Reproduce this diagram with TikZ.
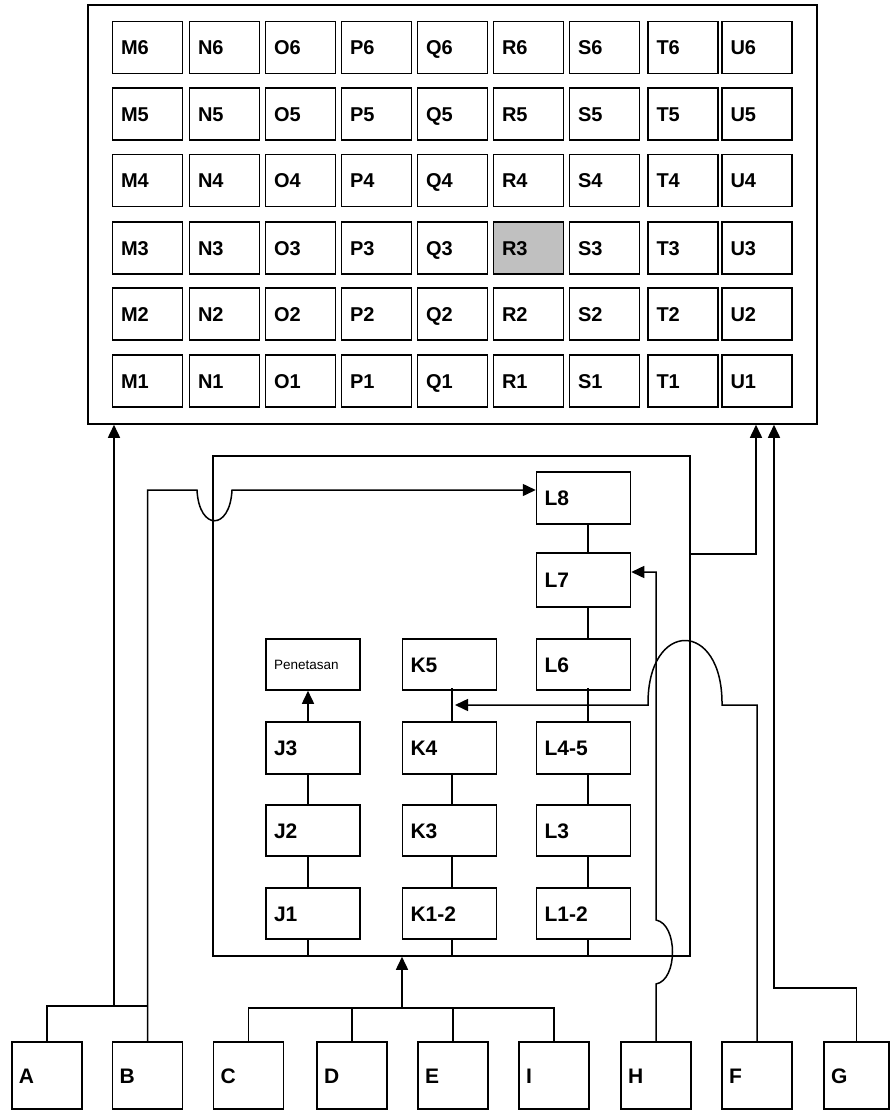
\documentclass[tikz,border=0pt]{standalone}
\usepackage{fontspec}
\setmainfont{Liberation Sans}
\usetikzlibrary{arrows.meta}
\begin{document}
\begin{tikzpicture}[x=1pt,y=-1pt,
  ln/.style={line width=1.5pt, line join=miter},
  arr/.style={ln,-{Triangle[length=13pt,width=12pt]}},
  cell/.style={draw, line width=1.5pt, align=left, text width=53pt, inner xsep=8.5pt, minimum height=52pt, text height=14pt, text depth=0pt, font=\bfseries\fontsize{20}{20}\selectfont},
  mid/.style={draw, line width=1.5pt, align=left, text width=78pt, inner xsep=8pt, text height=15pt, text depth=0pt, font=\bfseries\fontsize{21}{21}\selectfont},
  src/.style={draw, line width=1.5pt, align=left, text width=56pt, inner xsep=7pt, minimum height=67pt, text height=15pt, text depth=0pt, font=\bfseries\fontsize{21}{21}\selectfont},
  frame/.style={draw, line width=1.5pt, inner sep=0pt}]
\useasboundingbox (0,0) rectangle (890,1111);
% top frame
\node[frame, minimum width=729pt, minimum height=419pt] (top) at (452.5,214.5) {};
\foreach \c/\x in {M/147.5,N/224.5,O/300.5,P/376.5,Q/452.5,R/528.5,S/604.5,T/683,U/757}{
  \foreach \r/\y in {6/47.5,5/114,4/180.5,3/248,2/314,1/381}{
    \node[cell] (\c\r) at (\x,\y) {\c\r};
  }
}
\node[cell, fill={rgb,255:red,192;green,192;blue,192}] at (528.5,248) {R3};
% inner frame
\node[frame, minimum width=477pt, minimum height=500pt] (inner) at (451.5,706) {};
\node[mid, minimum height=52pt] (L8) at (583.5,498) {L8};
\node[mid, minimum height=54pt] (L7) at (583.5,580) {L7};
\node[mid, minimum height=51pt, text height=10pt, font=\fontsize{13.5}{13.5}\selectfont] (Pen) at (313,664.5) {Penetasan};
\node[mid, minimum height=51pt] (K5) at (449.5,664.5) {K5};
\node[mid, minimum height=51pt] (L6) at (583.5,664.5) {L6};
\node[mid, minimum height=52pt] (J3) at (313,748) {J3};
\node[mid, minimum height=52pt] (K4) at (449.5,748) {K4};
\node[mid, minimum height=52pt] (L45) at (583.5,748) {L4-5};
\node[mid, minimum height=51pt] (J2) at (313,830.5) {J2};
\node[mid, minimum height=51pt] (K3) at (449.5,830.5) {K3};
\node[mid, minimum height=51pt] (L3) at (583.5,830.5) {L3};
\node[mid, minimum height=51pt] (J1) at (313,913.5) {J1};
\node[mid, minimum height=51pt] (K12) at (449.5,913.5) {K1-2};
\node[mid, minimum height=51pt] (L12) at (583.5,913.5) {L1-2};
% bottom sources
\node[src] (A) at (47,1075.5) {A};
\node[src] (B) at (147.5,1075.5) {B};
\node[src] (C) at (248.5,1075.5) {C};
\node[src] (D) at (352,1075.5) {D};
\node[src] (E) at (453,1075.5) {E};
\node[src] (I) at (554,1075.5) {I};
\node[src] (H) at (656,1075.5) {H};
\node[src] (F) at (757,1075.5) {F};
\node[src, text width=51pt] (G) at (856.5,1075.5) {G};
% column connectors
\draw[ln] ([xshift=-5pt]J1.north) -- ([xshift=-5pt]J2.south);
\draw[ln] ([xshift=-5pt]J2.north) -- ([xshift=-5pt]J3.south);
\draw[arr] ([xshift=-5pt]J3.north) -- ([xshift=-5pt]Pen.south);
\draw[ln] ([xshift=2.5pt]K12.north) -- ([xshift=2.5pt]K3.south);
\draw[ln] ([xshift=2.5pt]K3.north) -- ([xshift=2.5pt]K4.south);
\draw[ln] ([xshift=2.5pt]K4.north) -- ([xshift=2.5pt,yshift=3pt]K5.south);
\draw[ln] ([xshift=4.5pt]L12.north) -- ([xshift=4.5pt]L3.south);
\draw[ln] ([xshift=4.5pt]L3.north) -- ([xshift=4.5pt]L45.south);
\draw[ln] ([xshift=4.5pt]L45.north) -- ([xshift=4.5pt,yshift=3pt]L6.south);
\draw[ln] ([xshift=4.5pt]L6.north) -- ([xshift=4.5pt]L7.south);
\draw[ln] ([xshift=4.5pt]L7.north) -- ([xshift=4.5pt]L8.south);
\draw[ln] ([xshift=-5pt]J1.south) -- ([xshift=-5pt]J1.south |- inner.south);
\draw[ln] ([xshift=2.5pt]K12.south) -- ([xshift=2.5pt]K12.south |- inner.south);
\draw[ln] ([xshift=4.5pt]L12.south) -- ([xshift=4.5pt]L12.south |- inner.south);
% A and B
\coordinate (abj) at (148,1006);
\coordinate (aup) at (114,1006);
\coordinate (bj1) at (197,490);
\coordinate (bj2) at (232,490);
\draw[ln] (A.north) |- (abj);
\draw[arr] (aup) -- (aup |- top.south);
\draw[arr] (B.north) |- (bj1) .. controls (199,531) and (230,531) .. (bj2) -- ([yshift=8pt]L8.west);
% C D E I
\coordinate (cb) at (248.5,1008);
\coordinate (cup) at (402,1008);
\draw[ln] (C.north) -- (C.north |- cb) -- (I.north |- cb) -- (I.north);
\draw[ln] (D.north) -- (D.north |- cb);
\draw[ln] (E.north) -- (E.north |- cb);
\draw[arr] (cup) -- (cup |- inner.south);
% H
\coordinate (h1) at (656,984);
\coordinate (h2) at (656,920);
\draw[arr] (H.north) -- (h1) .. controls (678,980) and (678,924) .. (h2) |- ([yshift=8pt]L7.east);
% F
\coordinate (f1) at (722,705);
\coordinate (f2) at (648,705);
\coordinate (ktip) at (455,705);
\draw[arr] (F.north) |- (f1) .. controls (723,619) and (647,619) .. (f2) -- (ktip);
% G
\coordinate (g1) at (774,988);
\draw[arr] (G.north) |- (g1) -- (g1 |- top.south);
% inner to top
\coordinate (i1) at (756,554);
\draw[arr] (inner.east |- i1) -- (i1) -- (i1 |- top.south);
\end{tikzpicture}
\end{document}
